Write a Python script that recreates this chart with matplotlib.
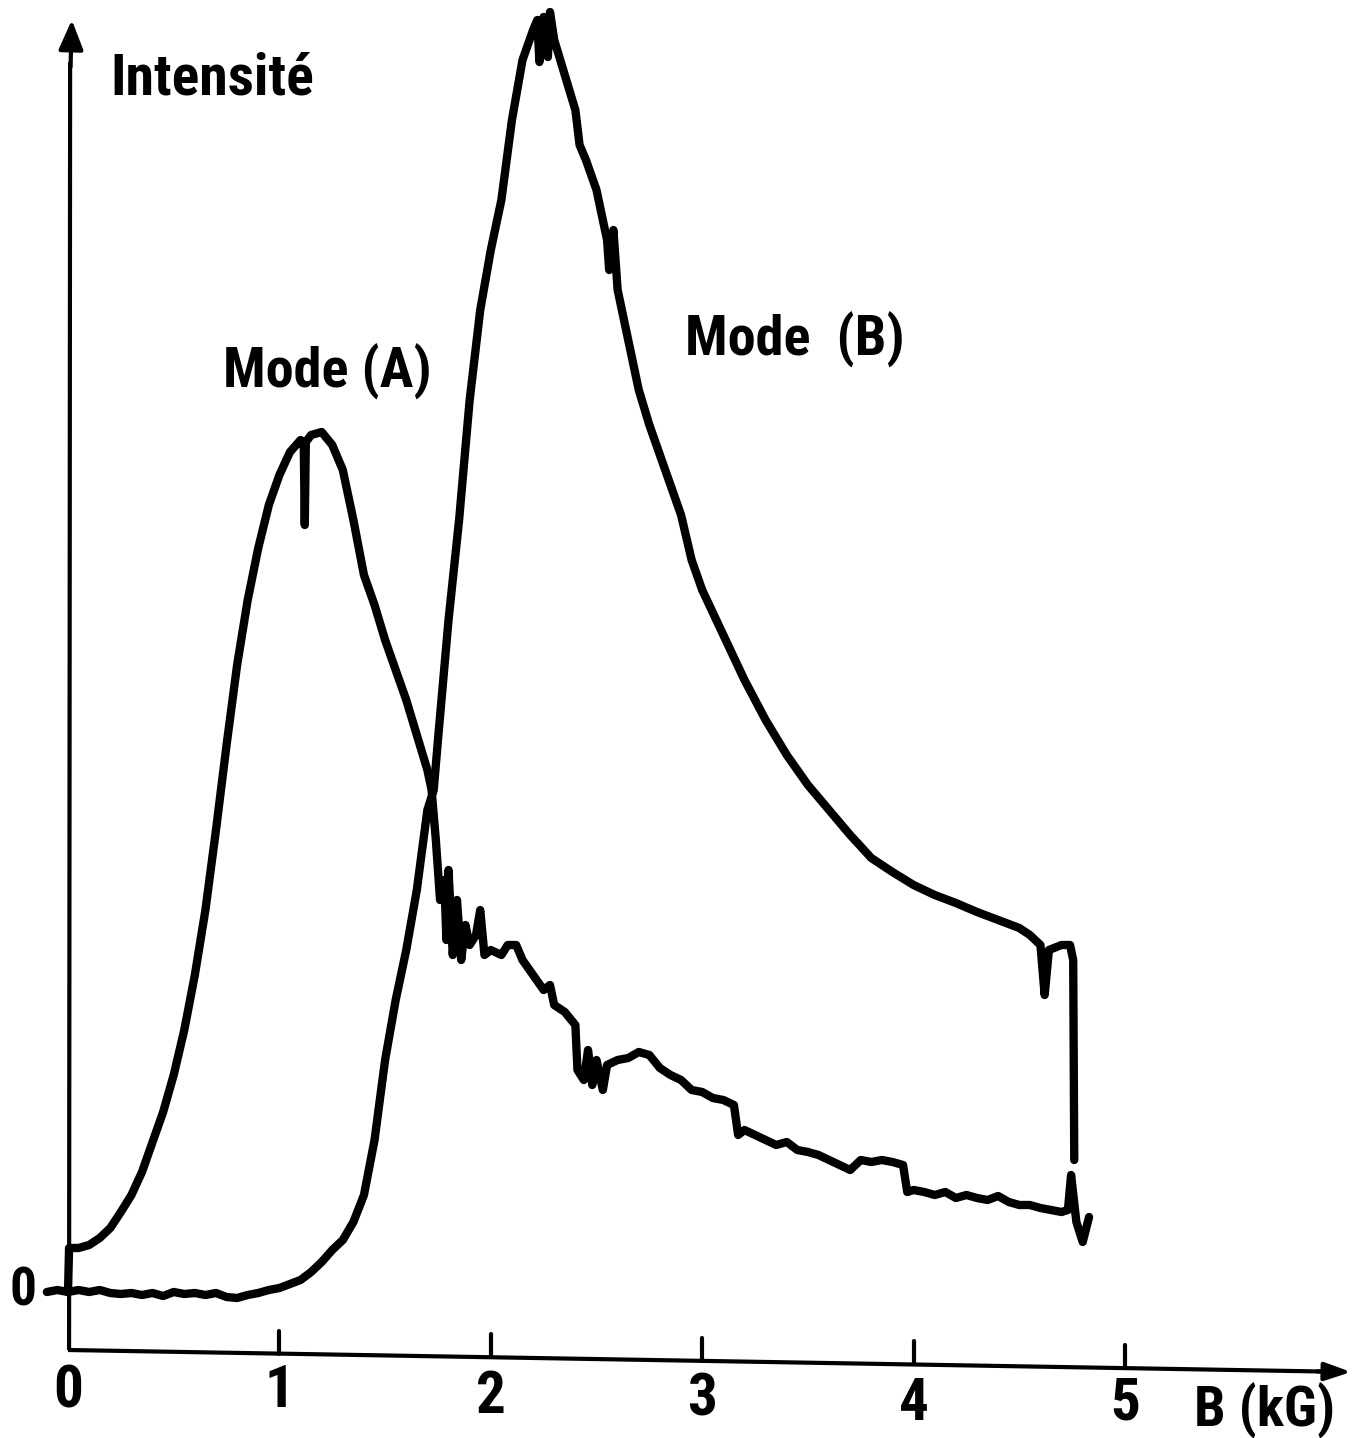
import matplotlib.pyplot as plt
from matplotlib import font_manager, ft2font
from matplotlib.textpath import TextPath

# field values (kG) and relative intensity for the two recorded modes
field_a = [0.0, 0.005, 0.05, 0.10, 0.15, 0.20, 0.25, 0.30, 0.35, 0.40, 0.45, 0.50,
           0.55, 0.60, 0.65, 0.70, 0.75, 0.80, 0.85, 0.90, 0.95, 1.00, 1.05, 1.10,
           1.115, 1.12, 1.125, 1.15, 1.20, 1.25, 1.30, 1.35, 1.40, 1.45, 1.50, 1.55,
           1.60, 1.65, 1.70, 1.72, 1.74, 1.76, 1.78, 1.79, 1.80, 1.82, 1.84, 1.86,
           1.88, 1.90, 1.93, 1.95, 1.97, 2.00, 2.05, 2.08, 2.12, 2.15, 2.20, 2.25,
           2.28, 2.30, 2.35, 2.40, 2.41, 2.44, 2.46, 2.48, 2.50, 2.53, 2.55, 2.60,
           2.65, 2.70, 2.75, 2.80, 2.85, 2.90, 2.95, 3.00, 3.05, 3.10, 3.15, 3.17,
           3.20, 3.25, 3.30, 3.35, 3.40, 3.45, 3.50, 3.55, 3.60, 3.65, 3.70, 3.75,
           3.80, 3.85, 3.90, 3.95, 3.97, 4.00, 4.05, 4.10, 4.15, 4.20, 4.25, 4.30,
           4.35, 4.40, 4.45, 4.50, 4.55, 4.60, 4.65, 4.70, 4.73, 4.745, 4.77, 4.80,
           4.83]
intensity_a = [0.0, 0.44, 0.44, 0.47, 0.54, 0.64, 0.80, 0.97, 1.20, 1.50, 1.80, 2.17,
               2.62, 3.17, 3.82, 4.62, 5.47, 6.27, 6.92, 7.44, 7.87, 8.17, 8.40, 8.52,
               8.50, 7.67, 8.50, 8.57, 8.60, 8.47, 8.22, 7.72, 7.17, 6.87, 6.52, 6.22,
               5.92, 5.57, 5.22, 5.02, 4.52, 3.92, 4.12, 3.52, 4.22, 3.37, 3.92, 3.32,
               3.67, 3.47, 3.57, 3.82, 3.37, 3.42, 3.37, 3.47, 3.47, 3.32, 3.17, 3.02,
               3.07, 2.87, 2.80, 2.67, 2.22, 2.12, 2.42, 2.07, 2.32, 2.02, 2.27, 2.32,
               2.34, 2.40, 2.37, 2.24, 2.17, 2.12, 2.02, 2.00, 1.94, 1.92, 1.87, 1.57,
               1.62, 1.57, 1.52, 1.47, 1.50, 1.42, 1.40, 1.37, 1.32, 1.27, 1.22, 1.32,
               1.30, 1.32, 1.30, 1.27, 1.00, 1.02, 1.00, 0.97, 1.00, 0.94, 0.97, 0.94,
               0.92, 0.96, 0.90, 0.87, 0.87, 0.84, 0.82, 0.80, 0.82, 1.17, 0.70, 0.50,
               0.75]

field_b = [-0.10, -0.05, 0.0, 0.05, 0.10, 0.15, 0.20, 0.25, 0.30, 0.35, 0.40, 0.45,
           0.50, 0.55, 0.60, 0.65, 0.70, 0.75, 0.80, 0.85, 0.90, 0.95, 1.00, 1.05,
           1.10, 1.15, 1.20, 1.25, 1.30, 1.35, 1.40, 1.45, 1.50, 1.55, 1.60, 1.65,
           1.70, 1.73, 1.75, 1.80, 1.85, 1.90, 1.95, 2.00, 2.05, 2.10, 2.15, 2.20,
           2.22, 2.23, 2.25, 2.27, 2.28, 2.30, 2.35, 2.40, 2.42, 2.45, 2.50, 2.55,
           2.56, 2.58, 2.60, 2.65, 2.70, 2.75, 2.80, 2.85, 2.90, 2.95, 3.00, 3.10,
           3.20, 3.30, 3.40, 3.50, 3.60, 3.70, 3.80, 3.90, 4.00, 4.10, 4.20, 4.30,
           4.40, 4.50, 4.55, 4.60, 4.62, 4.64, 4.70, 4.74, 4.755, 4.76]
intensity_b = [0.0, 0.02, 0.0, 0.02, 0.0, 0.02, -0.01, -0.02, -0.01, -0.03, -0.01, -0.04,
               0.0, -0.02, -0.01, -0.03, -0.01, -0.05, -0.06, -0.03, -0.01, 0.02, 0.04, 0.08,
               0.12, 0.20, 0.30, 0.42, 0.52, 0.70, 0.97, 1.52, 2.32, 2.92, 3.42, 4.02,
               4.82, 5.02, 5.52, 6.72, 7.72, 8.92, 9.82, 10.42, 10.92, 11.72, 12.32, 12.62,
               12.72, 12.30, 12.75, 12.35, 12.80, 12.52, 12.17, 11.82, 11.47, 11.32, 11.02, 10.52,
               10.22, 10.62, 10.02, 9.52, 9.02, 8.67, 8.37, 8.07, 7.77, 7.32, 7.02, 6.57,
               6.12, 5.72, 5.37, 5.07, 4.82, 4.57, 4.34, 4.20, 4.07, 3.97, 3.89, 3.80,
               3.72, 3.64, 3.57, 3.47, 2.97, 3.42, 3.47, 3.47, 3.32, 1.32]

x_ticks = [1, 2, 3, 4, 5]
x_tick_labels = ['0', '1', '2', '3', '4', '5']

ink = 'black'
sans_families = ('DejaVu Sans', 'Liberation Sans', 'Liberation Sans Narrow', 'Noto Sans',
                 'Roboto', 'Roboto Condensed', 'Open Sans', 'Lato', 'Inter')


def _weight(f):
    w = f.weight
    if isinstance(w, str):
        return {'bold': 700, 'semibold': 600, 'demibold': 600, 'heavy': 800,
                'black': 900, 'medium': 500}.get(w, 400)
    return w


def _has_glyphs(fname, text):
    try:
        face = ft2font.FT2Font(fname)
    except Exception:
        return False
    return all(face.get_char_index(ord(c)) for c in text if c != ' ')


def _height(prop, s):
    return TextPath((0, 0), s, size=100, prop=prop).get_extents().height / 100.0


def _width(prop, s):
    return TextPath((0, 0), s, size=100, prop=prop).get_extents().width / 100.0


# pick the bold sans face whose proportions come closest to the narrow lettering
best = None
for f in font_manager.fontManager.ttflist:
    if f.name not in sans_families or f.style != 'normal':
        continue
    if not 600 <= _weight(f) <= 800:
        continue
    if not _has_glyphs(f.fname, 'IntensitéMode(AB)kG012345'):
        continue
    try:
        prop = font_manager.FontProperties(fname=f.fname)
        score = abs(_width(prop, 'Intensité') / _height(prop, 'I') - 4.3)
    except Exception:
        continue
    if best is None or score < best[0]:
        best = (score, prop)
if best is None:
    best = (0, font_manager.FontProperties(family='DejaVu Sans', weight='bold'))
lettering = best[1]
cap_ratio = _height(lettering, 'I')


def label(x, y, s, height_px, ha='left'):
    size = height_px / cap_ratio * 72.0 / fig.dpi
    ax.text(x, y, s, ha=ha, va='baseline', fontsize=size, color=ink,
            fontproperties=lettering)


fig = plt.figure(figsize=(13.64, 14.38), dpi=100)
ax = fig.add_axes([0, 0, 1, 1])
ax.set_xlim(-0.3217, 6.1306)
ax.set_ylim(-1.46, 12.92)
ax.axis('off')

# the two traces
for fx, iy in [(field_a, intensity_a), (field_b, intensity_b)]:
    ax.plot(fx, iy, color=ink, lw=6, solid_joinstyle='round', solid_capstyle='round')

# horizontal axis, slightly tilted like the recorder paper
y_left, y_right = -0.58, -0.80
x_end = 6.07
slope = (y_right - y_left) / x_end
ax.plot([0, x_end - 0.12], [y_left, y_left + slope * (x_end - 0.12)], color=ink, lw=3,
        solid_capstyle='butt')
ax.annotate('', xy=(x_end, y_right), xytext=(x_end - 0.16, y_left + slope * (x_end - 0.16)),
            arrowprops=dict(arrowstyle='-|>,head_length=1.6,head_width=0.55',
                            color=ink, lw=3, shrinkA=0, shrinkB=0))
for t in x_ticks:
    base = y_left + slope * t
    ax.plot([t, t], [base, base + 0.23], color=ink, lw=3, solid_capstyle='round')

# vertical axis
ax.plot([0.005, 0.01], [y_left, 12.3], color=ink, lw=3, solid_capstyle='butt')
ax.annotate('', xy=(0.018, 12.72), xytext=(0.012, 12.25),
            arrowprops=dict(arrowstyle='-|>,head_length=1.8,head_width=0.75',
                            color=ink, lw=3, shrinkA=0, shrinkB=0))

# tick labels
label_y = [-1.15, -1.15, -1.21, -1.23, -1.28, -1.28]
for i, lab in enumerate(x_tick_labels):
    label(i, label_y[i], lab, 42, ha='center')
label(-0.213, -0.13, '0', 38, ha='center')
label(5.66, -1.35, 'B (kG)', 40, ha='center')

# axis title and curve labels
label(0.199, 11.97, 'Intensité', 41)
label(0.733, 9.04, 'Mode (A)', 40)
label(2.919, 9.36, 'Mode  (B)', 40)

fig.savefig('out.png', dpi=100, facecolor='white')
